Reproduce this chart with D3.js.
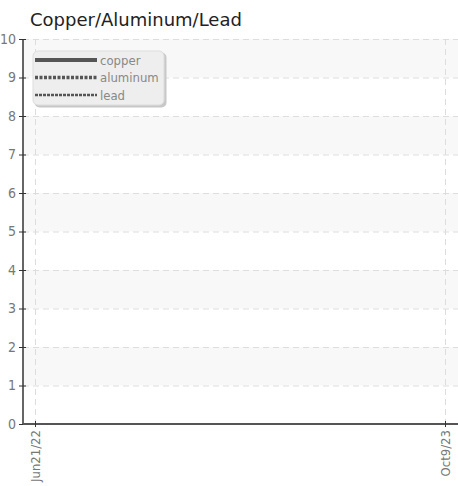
<!DOCTYPE html>
<html><head><meta charset="utf-8">
<script src="https://cdn.jsdelivr.net/npm/d3@7"></script>
<style>
body{margin:0;background:#fff;}
svg{display:block;}
.cond{font-family:"DejaVu Sans Condensed","DejaVu Sans",sans-serif;font-stretch:condensed;}
</style></head>
<body>
<div id="chart"></div>
<script>
const title = "Copper/Aluminum/Lead";
const seriesNames = ["copper", "aluminum", "lead"];
const seriesDash = ["", "3,1.5", "3,1"];
const seriesWidth = [4, 3.5, 2.5];
const xTickDates = ["2022-06-21", "2023-10-09"];
const yTicks = [0,1,2,3,4,5,6,7,8,9,10];
const yDomain = [0, 10];

(function(){
const W = 458, H = 486;
const svg = d3.select("#chart").append("svg").attr("width", W).attr("height", H);
const pl = 23, pr = 458, pt = 39, pb = 424;
const parse = d3.timeParse("%Y-%m-%d");
const dates = xTickDates.map(parse);
const x = d3.scaleTime().domain(dates).range([35, 445]);
const y = d3.scaleLinear().domain(yDomain).range([pb, pt]);

// bands
const bands = yTicks.slice(0, -1).filter(v => v % 2 === 1);
svg.append("g").selectAll("rect").data(bands).join("rect")
  .attr("x", pl).attr("width", pr - pl)
  .attr("y", d => y(d + 1)).attr("height", d => y(d) - y(d + 1))
  .attr("fill", "#f8f8f8");

// horizontal grid
svg.append("g").selectAll("line").data(yTicks.slice(1)).join("line")
  .attr("x1", pl).attr("x2", pr)
  .attr("y1", d => y(d) + 0.5).attr("y2", d => y(d) + 0.5)
  .attr("stroke", "#ddd").attr("stroke-dasharray", "6,4");
// vertical grid
svg.append("g").selectAll("line").data(dates).join("line")
  .attr("x1", d => x(d) + 0.5).attr("x2", d => x(d) + 0.5)
  .attr("y1", pt).attr("y2", pb)
  .attr("stroke", "#ddd").attr("stroke-dasharray", "6,4");

// y axis
const yAxis = svg.append("g").attr("transform", `translate(${pl},0)`)
  .call(d3.axisLeft(y).tickValues(yTicks).tickSize(4).tickPadding(3).tickFormat(d3.format("d")));
yAxis.select(".domain").attr("stroke", "#333").attr("stroke-width", 1.5).attr("d", `M0,${pt}V${pb}`);
yAxis.selectAll(".tick line").attr("stroke", "#333").attr("x2", -4).attr("x1", 3);
yAxis.selectAll(".tick text").attr("class", "cond").attr("fill", "#777").attr("font-size", 14);

// x axis
const xAxis = svg.append("g").attr("transform", `translate(0,${pb})`)
  .call(d3.axisBottom(x).tickValues(dates).tickSize(3).tickFormat(d3.timeFormat("%b%-d/%y")));
xAxis.select(".domain").attr("stroke", "#555").attr("stroke-width", 2).attr("d", `M${pl},0H${pr}`);
xAxis.selectAll(".tick line").attr("stroke", "#333").attr("y1", -3).attr("y2", 3);
xAxis.selectAll(".tick text").attr("class", "cond").attr("fill", "#777").attr("font-size", 13)
  .attr("transform", "rotate(-90)").attr("text-anchor", "end")
  .attr("x", -6).attr("y", 0).attr("dy", "0.35em");

// title
svg.append("text").attr("x", 30).attr("y", 26).text(title)
  .attr("font-family", "DejaVu Sans, sans-serif").attr("font-size", 18).attr("fill", "#222");

// legend
const lg = svg.append("g").attr("transform", "translate(33,51)");
lg.append("rect").attr("x", 1.5).attr("y", 1.5).attr("width", 132).attr("height", 55).attr("rx", 5)
  .attr("fill", "#c8c8c8");
lg.append("rect").attr("x", 0).attr("y", 0).attr("width", 131).attr("height", 54).attr("rx", 5)
  .attr("fill", "#eee").attr("stroke", "#ddd");
const items = lg.selectAll("g.item").data(seriesNames).join("g").attr("class", "item")
  .attr("transform", (d, i) => `translate(0,${9 + i * 17.5})`);
items.append("line").attr("x1", 2).attr("x2", 64).attr("y1", 0).attr("y2", 0)
  .attr("stroke", "#555").attr("stroke-width", (d, i) => seriesWidth[i])
  .attr("stroke-dasharray", (d, i) => seriesDash[i]);
items.append("text").attr("class", "cond").attr("x", 67).attr("y", 0).attr("dy", "0.35em").text(d => d)
  .attr("font-size", 13).attr("fill", "#888");
})();
</script>
</body></html>
